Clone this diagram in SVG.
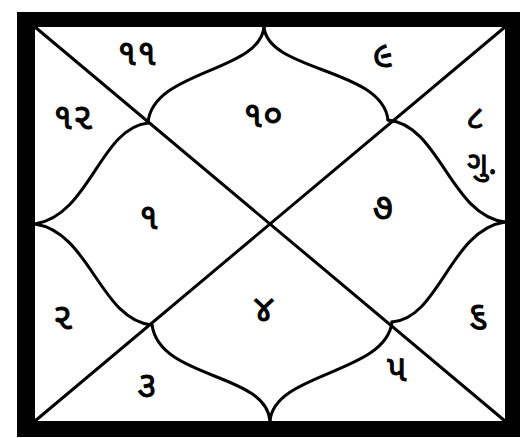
<svg xmlns="http://www.w3.org/2000/svg" width="522" height="438" viewBox="0 0 522 438">
<style>
.ln{fill:none;stroke:#000;stroke-width:3;stroke-linecap:round}
.t{font-family:"Noto Sans Gujarati","Lohit Gujarati","Noto Sans","DejaVu Sans",sans-serif;font-size:36px;text-anchor:middle;dominant-baseline:central;fill:#000;stroke:#000;stroke-width:0.9}
.s{font-size:32px}
</style>
<rect width="522" height="438" fill="#fff"/>
<g id="frame">
<path d="M17,12 H520 V437 H17 Z M35,27 V421 H505 V27 Z" fill="#000" fill-rule="evenodd"/>
</g>
<g id="connectors">
<line class="ln" x1="35" y1="27" x2="505" y2="421"/>
<line class="ln" x1="505" y1="27" x2="35" y2="421"/>
<path class="ln" d="M264,27 C260,72 152,70 148,123"/>
<path class="ln" d="M264,27 C268,72 382,68 388,120"/>
<path class="ln" d="M388,120 C440,125 450,215 505,222"/>
<path class="ln" d="M505,222 C450,230 440,318 392,322"/>
<path class="ln" d="M392,322 C386,374 274,372 270,421"/>
<path class="ln" d="M270,421 C266,372 160,380 152,325"/>
<path class="ln" d="M152,325 C100,320 90,232 35,224"/>
<path class="ln" d="M35,224 C90,215 100,128 148,123"/>
</g>
<g id="h11"><text class="t" x="137" y="56">૧૧</text></g>
<g id="h9"><text class="t" x="383" y="58">૯</text></g>
<g id="h12"><text class="t" x="73" y="120">૧૨</text></g>
<g id="h10"><text class="t" x="263" y="118">૧૦</text></g>
<g id="h8"><text class="t s" x="475" y="120">૮</text><text class="t s" x="482" y="166">ગુ.</text></g>
<g id="h1"><text class="t" x="149" y="220">૧</text></g>
<g id="h7"><text class="t" x="383" y="210">૭</text></g>
<g id="h2"><text class="t" x="63" y="320">૨</text></g>
<g id="h4"><text class="t" x="264" y="312">૪</text></g>
<g id="h6"><text class="t" x="478" y="318">૬</text></g>
<g id="h3"><text class="t" x="147" y="388">૩</text></g>
<g id="h5"><text class="t" x="397" y="372">૫</text></g>
</svg>
